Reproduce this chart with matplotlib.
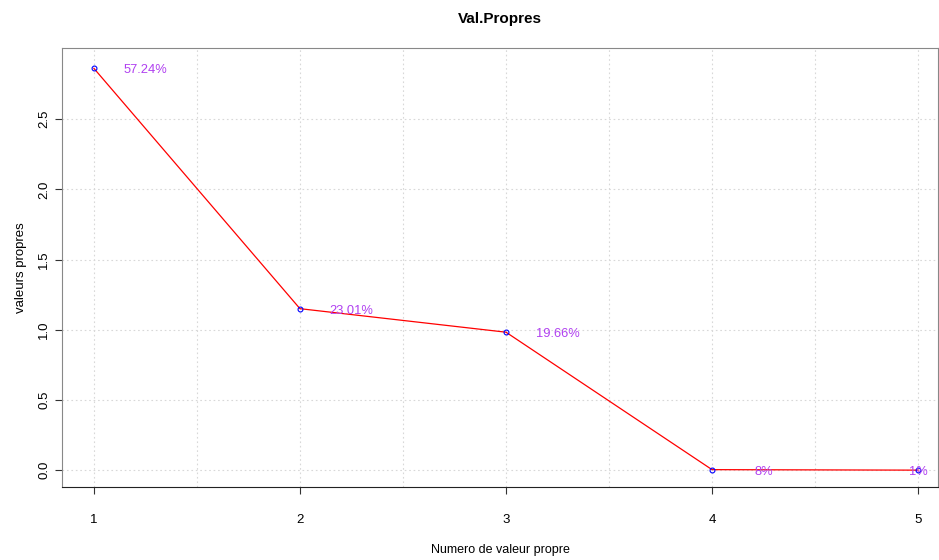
import matplotlib
matplotlib.use('Agg')
from matplotlib import pyplot as plt

# valeurs propres et pourcentages
numeros = [1, 2, 3, 4, 5]
valeurs = [2.862, 1.1505, 0.983, 0.004, 0.0005]
pourcents = ['57.24%', '23.01%', '19.66%', '8%', '1%']

plt.rcParams['font.family'] = ['Liberation Sans', 'DejaVu Sans']

fig = plt.figure(figsize=(9.39, 5.6), dpi=100)
ax = fig.add_axes([0.066, 0.130, 0.933, 0.784])

ax.plot(numeros, valeurs, color='red', linewidth=0.9, zorder=3)
ax.plot(numeros, valeurs, linestyle='none', marker='o', markersize=3.5,
        markerfacecolor='none', markeredgecolor='blue', markeredgewidth=0.8, zorder=4)

for x, y, lab in zip(numeros, valeurs, pourcents):
    ax.text(min(x + 0.25, 5), y - 0.015, lab, color='#b040f0', fontsize=9.3,
            ha='center', va='center', zorder=5)

ax.set_xlim(0.845, 5.097)
ax.set_ylim(-0.121, 3.006)

ax.set_xticks(numeros)
ax.set_yticks([0, 0.5, 1.0, 1.5, 2.0, 2.5])
ax.set_yticklabels(['0.0', '0.5', '1.0', '1.5', '2.0', '2.5'], rotation=90, va='center')
ax.tick_params(labelsize=9.5, length=5, color='#333333')
ax.tick_params(axis='x', pad=14)

# grille
for gx in [1, 1.5, 2, 2.5, 3, 3.5, 4, 4.5, 5]:
    ax.axvline(gx, color='#d8d8d8', linestyle=(0, (1.5, 2.5)), linewidth=0.8, zorder=1)
for gy in [0, 0.5, 1.0, 1.5, 2.0, 2.5]:
    ax.axhline(gy, color='#d8d8d8', linestyle=(0, (1.5, 2.5)), linewidth=0.8, zorder=1)

ax.spines['left'].set_color('#888888')
ax.spines['top'].set_color('#888888')
ax.spines['right'].set_color('#888888')
ax.spines['bottom'].set_color('#222222')

ax.set_title('Val.Propres', fontsize=11, fontweight='bold', pad=18)
ax.set_xlabel('Numero de valeur propre', fontsize=9, labelpad=13)
ax.set_ylabel('valeurs propres', fontsize=9.5, labelpad=8)

plt.savefig('out.png', dpi=100)
